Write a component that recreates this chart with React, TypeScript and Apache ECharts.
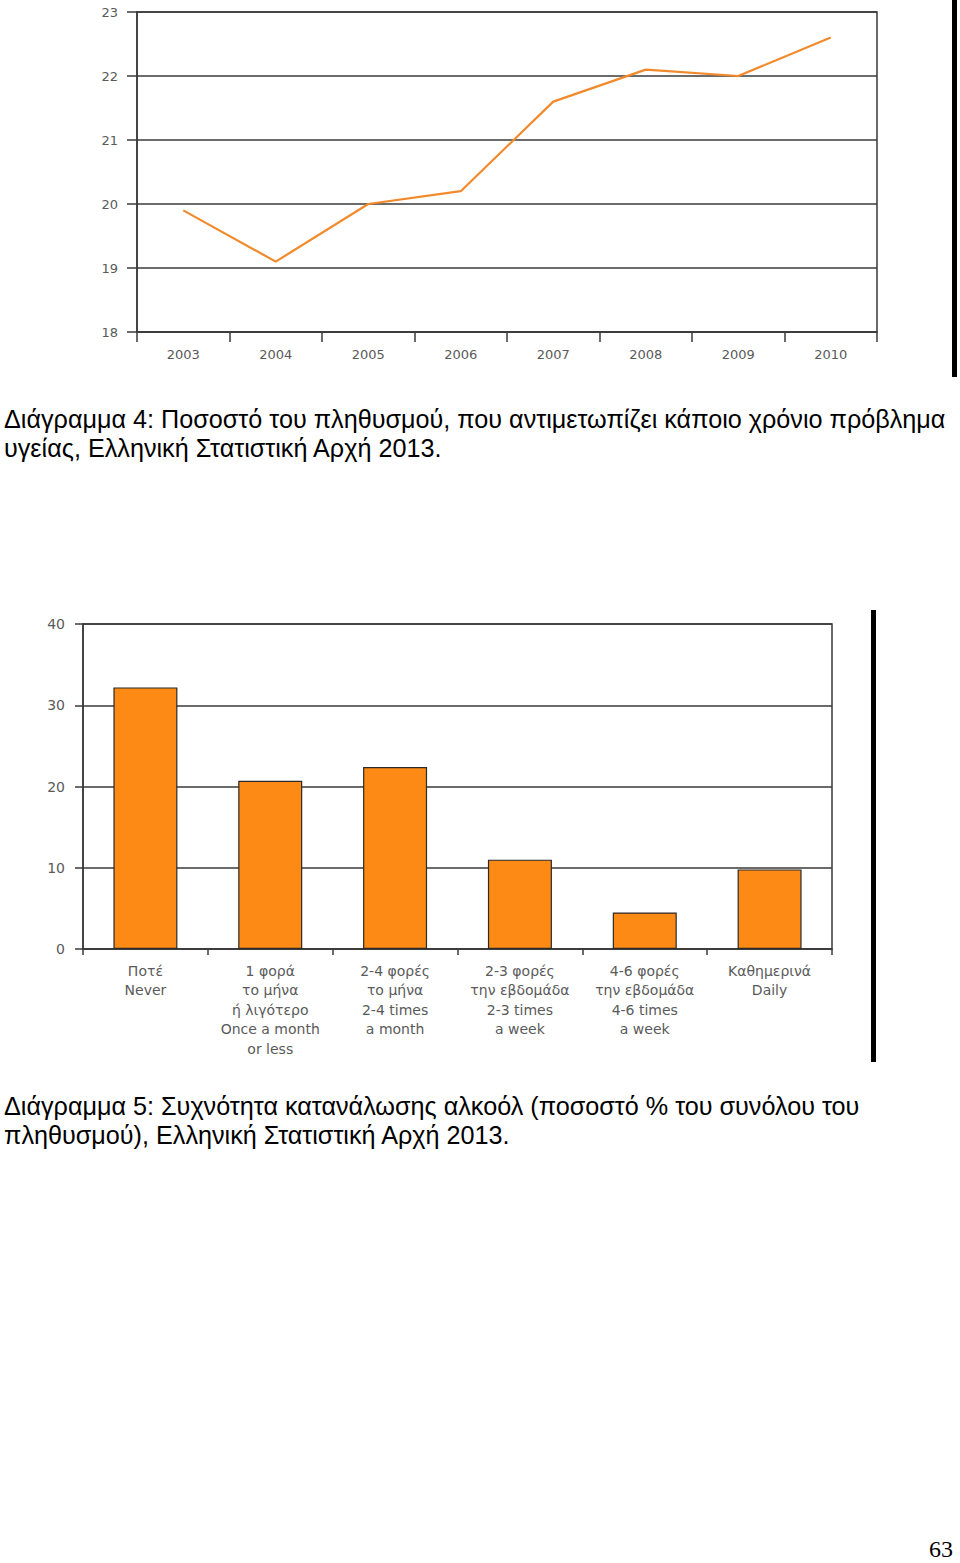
import React, { useEffect, useRef } from "react";
import * as echarts from "echarts";

const years = ["2003", "2004", "2005", "2006", "2007", "2008", "2009", "2010"];
const chronicShare = [19.9, 19.1, 20.0, 20.2, 21.6, 22.1, 22.0, 22.6];

const freqCategories = [
  "Ποτέ\nNever",
  "1 φορά\nτο μήνα\nή λιγότερο\nOnce a month\nor less",
  "2-4 φορές\nτο μήνα\n2-4 times\na month",
  "2-3 φορές\nτην εβδομάδα\n2-3 times\na week",
  "4-6 φορές\nτην εβδομάδα\n4-6 times\na week",
  "Καθημερινά\nDaily",
];
const alcoholShare = [32.2, 20.7, 22.4, 11.0, 4.5, 9.8];

const caption4 = [
  "Διάγραμμα 4: Ποσοστό του πληθυσμού, που αντιμετωπίζει κάποιο χρόνιο πρόβλημα",
  "υγείας, Ελληνική Στατιστική Αρχή 2013.",
];
const caption5 = [
  "Διάγραμμα 5: Συχνότητα κατανάλωσης αλκοόλ (ποσοστό % του συνόλου του",
  "πληθυσμού), Ελληνική Στατιστική Αρχή 2013.",
];

export default function App() {
  const ref = useRef<HTMLDivElement>(null);
  useEffect(() => {
    if (!ref.current) return;
    const chart = echarts.init(ref.current, null, { renderer: "svg" });
    const gridColor = "#3a3a3a";
    const labelColor = "#5a5a5a";
    const axisFont = "'DejaVu Sans', Verdana, sans-serif";
    const capFont = "25.2px 'Liberation Sans', Arial, sans-serif";
    chart.setOption({
      animation: false,
      backgroundColor: "#fff",
      grid: [
        { left: 137, top: 12, width: 740, height: 320, show: true, borderColor: gridColor, borderWidth: 1.5, backgroundColor: "transparent" },
        { left: 83, top: 624, width: 749, height: 325, show: true, borderColor: gridColor, borderWidth: 1.5, backgroundColor: "transparent" },
      ],
      xAxis: [
        {
          gridIndex: 0,
          type: "category",
          data: years,
          boundaryGap: true,
          axisLine: { lineStyle: { color: gridColor, width: 1.5 } },
          axisTick: { show: true, length: 10, lineStyle: { color: gridColor, width: 1.5 } },
          axisLabel: { color: labelColor, fontSize: 13, fontFamily: axisFont, margin: 16 },
        },
        {
          gridIndex: 1,
          type: "category",
          data: freqCategories,
          boundaryGap: true,
          axisLine: { lineStyle: { color: gridColor, width: 1.5 } },
          axisTick: { show: true, length: 6, lineStyle: { color: gridColor, width: 1.5 } },
          axisLabel: { color: labelColor, fontSize: 14, lineHeight: 19.5, fontFamily: axisFont, margin: 12, interval: 0 },
        },
      ],
      yAxis: [
        {
          gridIndex: 0,
          type: "value",
          min: 18,
          max: 23,
          interval: 1,
          axisLine: { show: true, lineStyle: { color: gridColor, width: 1.5 } },
          axisTick: { show: true, length: 10, lineStyle: { color: gridColor, width: 1.5 } },
          splitLine: { show: true, lineStyle: { color: gridColor, width: 1.5 } },
          axisLabel: { color: labelColor, fontSize: 13, fontFamily: axisFont, margin: 19 },
        },
        {
          gridIndex: 1,
          type: "value",
          min: 0,
          max: 40,
          interval: 10,
          axisLine: { show: true, lineStyle: { color: gridColor, width: 1.5 } },
          axisTick: { show: true, length: 8, lineStyle: { color: gridColor, width: 1.5 } },
          splitLine: { show: true, lineStyle: { color: gridColor, width: 1.5 } },
          axisLabel: { color: labelColor, fontSize: 14, fontFamily: axisFont, margin: 18 },
        },
      ],
      series: [
        {
          type: "line",
          xAxisIndex: 0,
          yAxisIndex: 0,
          data: chronicShare,
          symbol: "none",
          lineStyle: { color: "#F28A2B", width: 2.2 },
        },
        {
          type: "bar",
          xAxisIndex: 1,
          yAxisIndex: 1,
          data: alcoholShare,
          barWidth: 64,
          itemStyle: { color: "#FC8A14", borderColor: "#2a2a2a", borderWidth: 1.2 },
        },
      ],
      graphic: [
        { type: "rect", shape: { x: 952, y: 0, width: 5, height: 377 }, style: { fill: "#000" } },
        { type: "rect", shape: { x: 871, y: 610, width: 5, height: 452 }, style: { fill: "#000" } },
        { type: "text", x: 4, y: 406, style: { text: caption4[0], font: capFont, fill: "#000", verticalAlign: "top" } },
        { type: "text", x: 4, y: 435, style: { text: caption4[1], font: capFont, fill: "#000", verticalAlign: "top" } },
        { type: "text", x: 4, y: 1093, style: { text: caption5[0], font: capFont, fill: "#000", verticalAlign: "top" } },
        { type: "text", x: 4, y: 1122, style: { text: caption5[1], font: capFont, fill: "#000", verticalAlign: "top" } },
        { type: "text", x: 929, y: 1537, style: { text: "63", font: "24px 'Liberation Serif', 'Times New Roman', serif", fill: "#000", verticalAlign: "top" } },
      ],
    });
    return () => chart.dispose();
  }, []);
  return (
    <div
      ref={ref}
      style={{ position: "absolute", left: 0, top: 0, width: 960, height: 1563, background: "#fff" }}
    />
  );
}
